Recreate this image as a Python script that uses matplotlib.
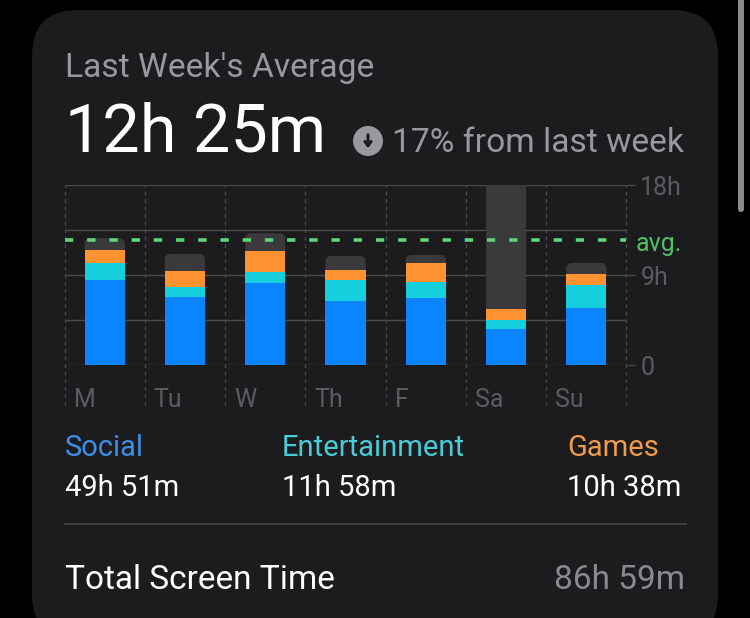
import matplotlib
matplotlib.use("Agg")
import matplotlib.pyplot as plt
import numpy as np
from matplotlib.patches import FancyBboxPatch, Circle, Rectangle
from matplotlib.transforms import ScaledTranslation

plt.rcParams['font.family'] = ['Roboto', 'DejaVu Sans']

days = ["M", "Tu", "W", "Th", "F", "Sa", "Su"]
social = [8.53, 6.83, 8.20, 6.43, 6.73, 3.63, 5.73]
entertainment = [1.74, 0.97, 1.17, 2.10, 1.60, 0.94, 2.27]
games = [1.26, 1.63, 2.03, 1.04, 1.94, 1.10, 1.13]
other = [1.17, 1.70, 1.80, 1.36, 0.76, 12.33, 1.10]
avg_value = 12.5
y_ticks = [0, 9, 18]
y_labels = ["0", "9h", "18h"]
grid_levels = [0, 4.5, 9, 13.5, 18]
legend_names = ["Social", "Entertainment", "Games"]
legend_values = ["49h 51m", "11h 58m", "10h 38m"]

BG = "#000000"; CARD = "#1c1c1e"; GRID = "#4a4a4c"; TICK = "#5c5c60"; SUB = "#98989d"
BLUE = "#0a84ff"; CYAN = "#16cfdc"; ORANGE = "#ff9230"; GREY = "#3a3a3c"; GREEN = "#5fd57a"

W, H = 750, 618
fig = plt.figure(figsize=(W/100, H/100), dpi=100, facecolor=BG)

# pixel overlay for the card and the text
bgax = fig.add_axes([0, 0, 1, 1], zorder=0)
bgax.set_xlim(0, W); bgax.set_ylim(H, 0); bgax.axis("off")
bgax.add_patch(FancyBboxPatch((32, 10), 686, 630, boxstyle="round,pad=0,rounding_size=46",
                              fc=CARD, ec="none"))
bgax.add_patch(FancyBboxPatch((738, -10), 6, 222, boxstyle="round,pad=0,rounding_size=3",
                              fc="#8a8a8c", ec="none"))

def put(x, y, s, size, color, ha="left", sy=1):
    bgax.text(x, y, s, fontsize=size, color=color, ha=ha, va="baseline")

put(65, 77, "Last Week's Average", 24.2, SUB)
put(65, 151, "12h 25m", 48, "#ffffff")
put(392, 152, "17% from last week", 24.2, SUB)
bgax.add_patch(Circle((368, 141), 15, fc=SUB, ec="none"))
bgax.annotate("", xy=(368, 151), xytext=(368, 132),
              arrowprops=dict(arrowstyle="->,head_width=0.22,head_length=0.3", color=CARD, lw=2.2))

xs = [65, 282, 567]
cols = ["#3c8fe8", "#48cdd8", "#f09a4c"]
for x, n, v, c in zip(xs, legend_names, legend_values, cols):
    put(x, 456, n, 21, c)
for x, v in zip(xs, legend_values):
    put(x, 496, v, 21, "#ffffff")
bgax.plot([65, 686], [523.5, 523.5], color="#3e3e40", lw=1.4)
put(65, 589, "Total Screen Time", 24, "#ffffff")
put(685, 589, "86h 59m", 24, "#8a8a8e", ha="right")

# chart axes
ax = fig.add_axes([64.5/W, 1 - 365.3/H, 562/W, 180/H], zorder=1)
ax.patch.set_alpha(0)
ax.set_xlim(-0.5, 6.5); ax.set_ylim(0, 18)
for s in ax.spines.values():
    s.set_visible(False)

x = np.arange(len(days))
ax.hlines(grid_levels, -0.5, 6.5, color=GRID, lw=1.0, zorder=1)
ax.vlines(np.arange(8) - 0.5, -4, 18, color=GRID, lw=0.9, linestyles=(0, (3, 3)),
          zorder=1, clip_on=False)

bw = 0.5
s = np.array(social); e = np.array(entertainment); g = np.array(games); o = np.array(other)
tops = s + e + g + o
aspect = (18/180) / (7/562)
for xi, base, top in zip(x, s + e + g, tops):
    if top >= 18:
        ax.bar(xi, top - base, bw, bottom=base, color=GREY, zorder=2)
    else:
        ax.add_patch(FancyBboxPatch((xi - bw/2, base - 0.5), bw, top - base + 0.5,
                                    boxstyle="round,pad=0,rounding_size=0.07",
                                    mutation_aspect=aspect, fc=GREY, ec="none", zorder=2))
ax.bar(x, s, bw, color=BLUE, zorder=3)
ax.bar(x, e, bw, bottom=s, color=CYAN, zorder=3)
ax.bar(x, g, bw, bottom=s + e, color=ORANGE, zorder=3)

ax.hlines(avg_value, -0.5, 6.5, color=GREEN, lw=2.6, linestyles=(0, (2.3, 3.85)), zorder=4)

ax.yaxis.tick_right()
ax.set_yticks(y_ticks, y_labels)
ax.tick_params(axis="y", length=6, width=1, color=GRID, labelcolor=TICK, labelsize=18, pad=4)
ax.text(1, 243, "", alpha=0)
ax.set_xticks(np.arange(7) - 0.5, days)
ax.tick_params(axis="x", length=0, labelcolor=TICK, labelsize=18, pad=16)
off = ScaledTranslation(9/100, 0, fig.dpi_scale_trans)
for lab in ax.get_xticklabels():
    lab.set_ha("left")
    lab.set_transform(lab.get_transform() + off)
put(636, 251, "avg.", 18, "#4cc265")

fig.savefig("out.png", dpi=100, facecolor=BG)
